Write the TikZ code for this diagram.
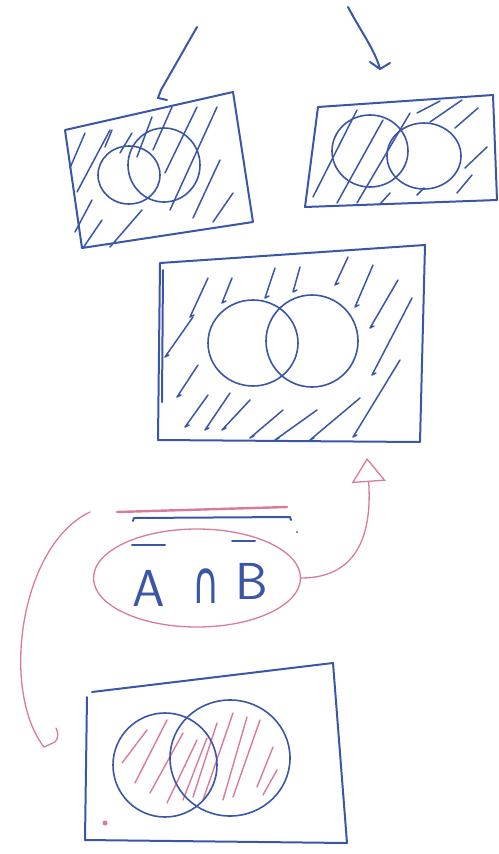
\documentclass[tikz,border=0pt]{standalone}
\usepackage{fontspec}
\newfontfamily\symfont{DejaVu Sans}
\usetikzlibrary{shapes.geometric,arrows.meta}
\definecolor{pen}{HTML}{3A56A6}
\definecolor{marker}{HTML}{D97A9B}
\tikzset{
  ink/.style={draw=pen, line width=2pt, line cap=round, line join=round},
  thinink/.style={draw=pen, line width=1.6pt, line cap=round, line join=round},
  hatchline/.style={draw=pen, line width=1.5pt, line cap=round, line join=round},
  pinkline/.style={draw=marker, line width=1.3pt, line cap=round, line join=round},
  pinkhatch/.style={draw=marker, line width=1.4pt, line cap=round},
  bigtext/.style={text=pen, inner sep=0pt, font=\fontsize{52}{60}\selectfont\sffamily},
}
\begin{document}
\begin{tikzpicture}[x=1pt,y=-1pt]
\useasboundingbox (0,0) rectangle (498,854);

% ---------- top-left box ----------
\coordinate (tlA) at (65,130);
\coordinate (tlB) at (233,92);
\coordinate (tlC) at (253,222);
\coordinate (tlD) at (82,248);
\coordinate (tltop) at (158,98);
\coordinate (arrAstart) at (197,27);
\draw[ink] (tlA) -- (tlB) -- (tlC) -- (tlD) -- cycle;
\draw[thinink] (129,175) ellipse [x radius=31pt, y radius=29pt];
\draw[thinink] (164,165) ellipse [x radius=36pt, y radius=37pt];
\foreach \a/\b in {
  {(70,168)}/{(85,133)}, {(77,192)}/{(110,130)}, {(105,147)}/{(112,130)},
  {(120,153)}/{(132,133)}, {(137,157)}/{(152,117)}, {(153,150)}/{(172,107)},
  {(165,173)}/{(197,107)}, {(170,210)}/{(217,107)}, {(193,218)}/{(220,160)},
  {(213,222)}/{(233,193)}, {(75,232)}/{(92,200)}, {(83,248)}/{(102,220)},
  {(110,247)}/{(142,210)}}
  \draw[hatchline] \a -- \b;
% arrow into top-left box
\draw[ink] (arrAstart) -- (161,90) -- (tltop) -- (167,100);

% ---------- top-right box ----------
\coordinate (trA) at (318,107);
\coordinate (trB) at (493,95);
\coordinate (trC) at (497,200);
\coordinate (trD) at (305,207);
\coordinate (arrBstart) at (348,7);
\coordinate (arrBend) at (380,69);
\draw[ink] (trA) -- (trB) -- (trC) -- (trD) -- cycle;
\draw[thinink] (370,151) ellipse [x radius=38pt, y radius=36pt];
\draw[thinink] (424,156) ellipse [x radius=37pt, y radius=33pt];
\foreach \a/\b in {
  {(313,197)}/{(357,110)}, {(337,203)}/{(383,120)}, {(357,203)}/{(410,113)},
  {(380,204)}/{(390,193)}, {(417,195)}/{(424,188)}, {(417,113)}/{(440,101)},
  {(430,122)}/{(462,100)}, {(455,128)}/{(478,108)}, {(465,168)}/{(487,147)},
  {(457,193)}/{(472,175)}}
  \draw[hatchline] \a -- \b;
% arrow into top-right box
\draw[ink] (arrBstart) .. controls (360,30) and (375,50) .. (arrBend);
\draw[ink] (370,62) -- (arrBend) -- (390,63);

% ---------- middle box ----------
\coordinate (mA) at (160,263);
\coordinate (mB) at (425,245);
\coordinate (mC) at (420,442);
\coordinate (mD) at (158,440);
\coordinate (mbot) at (367,458);
\draw[ink] (mA) -- (mB) -- (mC) -- (mD) -- cycle;
\draw[ink] (163,270) -- (162,402);
\draw[thinink] (253,343) ellipse [x radius=45pt, y radius=43pt];
\draw[thinink] (312,341) ellipse [x radius=46pt, y radius=46pt];
\foreach \a/\b in {
  {(208,278)}/{(190,317)}, {(232,278)}/{(222,303)}, {(275,268)}/{(265,298)},
  {(300,267)}/{(293,292)}, {(348,257)}/{(335,285)}, {(373,265)}/{(355,307)},
  {(398,280)}/{(370,328)}, {(412,298)}/{(372,375)}, {(400,360)}/{(353,437)},
  {(193,317)}/{(165,357)}, {(198,365)}/{(177,397)}, {(208,395)}/{(185,427)},
  {(230,393)}/{(205,430)}, {(250,400)}/{(222,430)}, {(283,410)}/{(250,438)},
  {(317,410)}/{(275,440)}, {(360,398)}/{(310,440)}}
  \draw[hatchline] \a -- \b -- ++(4,-2);

% ---------- expression ----------
\node[draw=marker, line width=1.3pt, ellipse, minimum width=207pt, minimum height=98pt, inner sep=0pt] (expr) at (197,578) {};
\node[bigtext] (tA) at (149,588) {A};
\node[text=pen, inner sep=0pt, font=\fontsize{60}{66}\selectfont\symfont, xscale=0.62] (tcap) at (206,586) {∩};
\node[bigtext] (tB) at (252,581) {B};
\draw[ink] (132,545) -- (165,545);
\draw[ink] (232,541) -- (255,541);
\draw[draw=marker, line width=2.4pt, line cap=round] (117,512) -- (287,507);
\draw[ink] (133,521) -- (134,518) -- (290,517) -- (291,520);
\fill[pen] (297,532) circle (1pt);
\coordinate (barL) at (90,512);

% arrow from expression to middle box
\draw[pinkline, -{Triangle[open, length=24pt, width=34pt, line width=1.3pt]}]
  (expr.east) .. controls (360,578) and (372,530) .. (mbot);

% ---------- bottom box ----------
\coordinate (bA) at (92,692);
\coordinate (bB) at (333,663);
\coordinate (bC) at (347,843);
\coordinate (bD) at (85,840);
\coordinate (bleft) at (44,747);
\draw[ink] (87,697) -- (bD) -- (bC) -- (bB) -- (bA);
\foreach \a/\b in {
  {(147,730)}/{(122,763)}, {(167,720)}/{(135,783)}, {(183,733)}/{(150,793)},
  {(197,740)}/{(167,803)}, {(207,738)}/{(183,800)}, {(217,723)}/{(193,797)},
  {(233,713)}/{(203,800)}, {(247,717)}/{(223,800)}, {(260,720)}/{(233,797)},
  {(273,747)}/{(257,787)}, {(277,770)}/{(263,795)}}
  \draw[pinkhatch] \a -- \b;
\draw[thinink] (165,765) ellipse [x radius=52pt, y radius=52pt];
\draw[thinink] (230,758) ellipse [x radius=60pt, y radius=58pt];
\fill[marker] (105,823) circle (2.5pt);

% arrow from bar to bottom box
\draw[pinkline] (barL) .. controls (20,545) and (0,690) .. (bleft);
\draw[pinkline] (bleft) -- (55,742) .. controls (59,738) and (58,732) .. (56,728);
\end{tikzpicture}
\end{document}
